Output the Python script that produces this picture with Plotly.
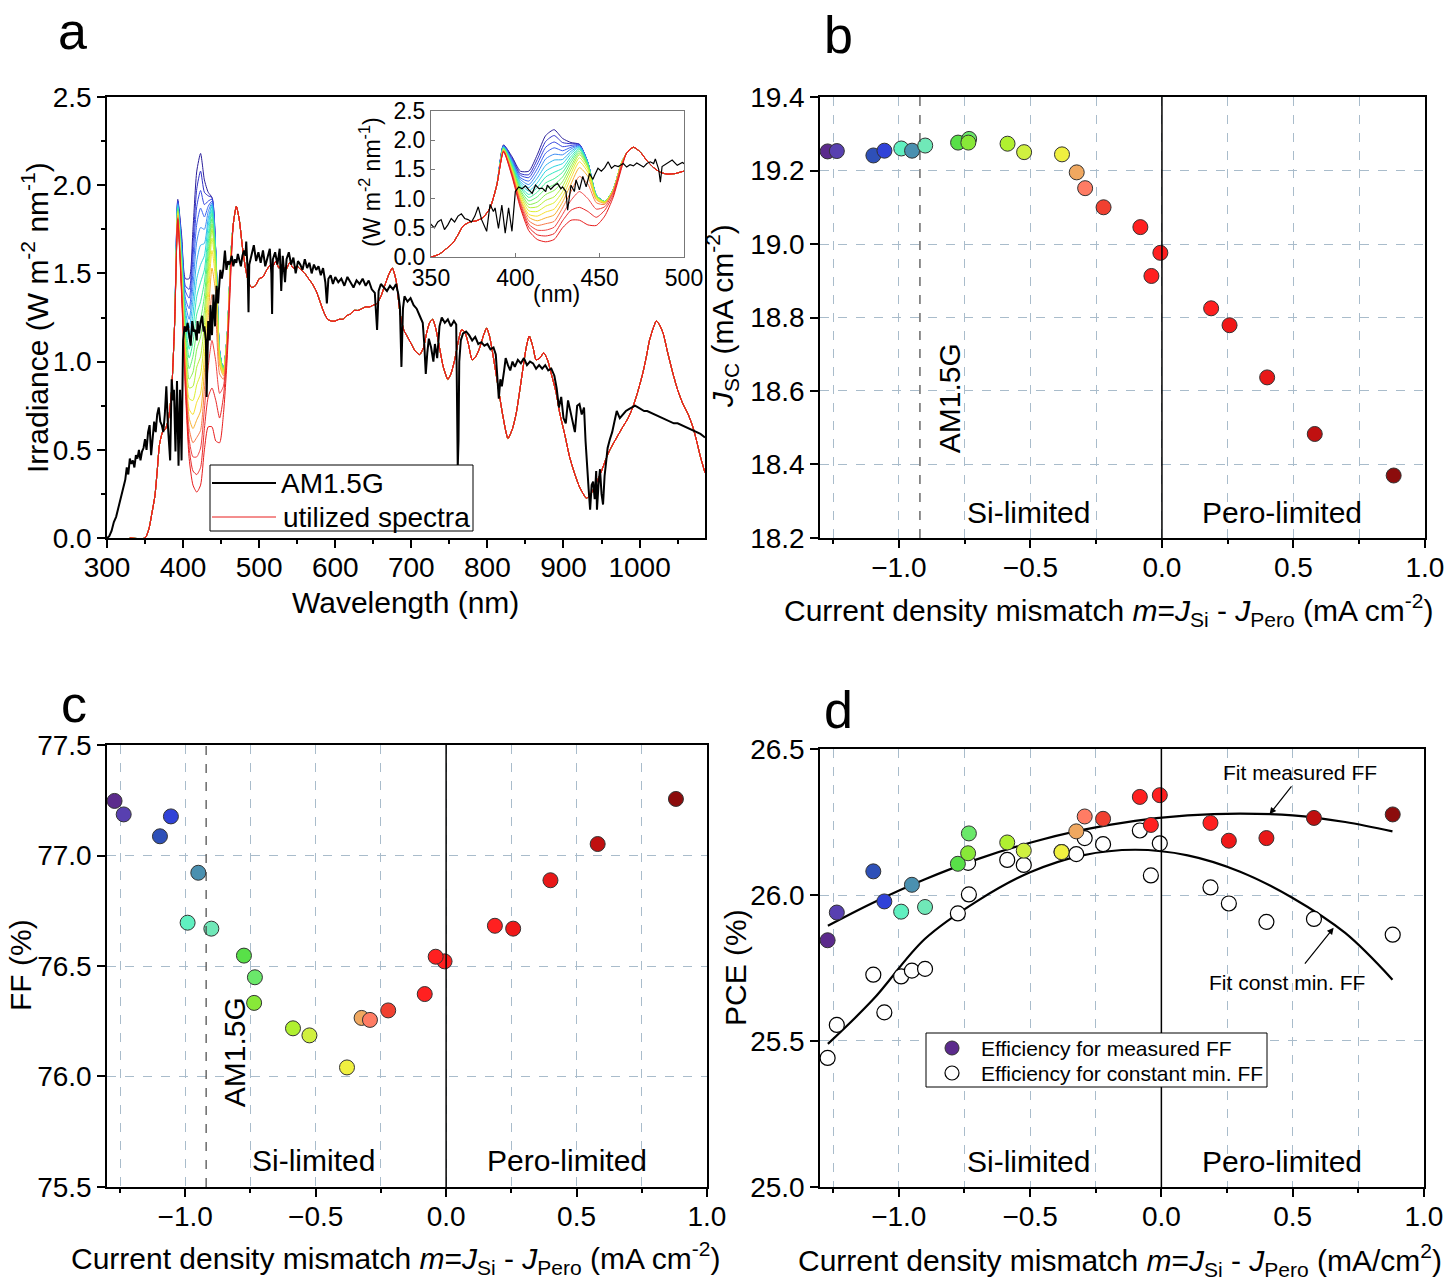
import plotly.graph_objects as go

FONT = "Liberation Sans, Arial, sans-serif"
W, H = 1445, 1280

# ---------------- panel a : spectra ----------------
am_wl = [300, 303, 306, 309, 312, 315, 318, 321, 324, 326,
         328, 330, 332, 334, 336, 338, 340, 342, 344, 346,
         348, 350, 352, 354, 356, 358, 360, 362, 364, 366,
         368, 370, 372, 374, 376, 378, 380, 382, 383, 385,
         387, 388, 390, 392, 394, 396, 398, 400, 402, 404,
         406, 408, 410, 412, 414, 416, 418, 419, 421, 423,
         425, 427, 428, 430, 431, 433, 435, 436, 438, 440,
         442, 444, 446, 447, 449, 451, 453, 455, 457, 459,
         461, 464, 466, 468, 470, 472, 474, 476, 478, 480,
         482, 483, 485, 486, 487, 490, 493, 496, 499, 502,
         505, 508, 511, 514, 516, 517, 518, 521, 524, 527,
         529, 531, 534, 536, 539, 542, 545, 548, 551, 554,
         557, 560, 563, 566, 569, 572, 575, 578, 581, 584,
         587, 589, 591, 594, 597, 600, 604, 608, 612, 616,
         620, 624, 628, 632, 636, 640, 644, 648, 652, 655,
         657, 660, 664, 668, 672, 676, 680, 683, 685, 687,
         689, 691, 695, 699, 703, 707, 711, 715, 717, 719,
         721, 723, 726, 729, 731, 734, 737, 740, 744, 748,
         752, 756, 759, 760, 761, 762, 763, 765, 768, 772,
         776, 780, 784, 788, 792, 796, 800, 804, 808, 811,
         813, 815, 817, 819, 822, 824, 827, 830, 833, 836,
         840, 844, 848, 852, 856, 860, 864, 868, 872, 876,
         880, 884, 888, 891, 894, 897, 900, 903, 906, 909,
         912, 915, 918, 921, 924, 927, 929, 931, 933, 935,
         937, 939, 941, 943, 944, 946, 948, 950, 952, 954,
         956, 958, 961, 964, 967, 970, 974, 978, 982, 986,
         990, 994, 998, 1002, 1006, 1010, 1015, 1020, 1025, 1030,
         1035, 1040, 1045, 1050, 1055, 1060, 1065, 1070, 1075, 1080,
         1086]
am_irr = [0.00, 0.01, 0.04, 0.09, 0.12, 0.17, 0.22, 0.27, 0.33, 0.40,
          0.36, 0.45, 0.42, 0.44, 0.40, 0.47, 0.45, 0.50, 0.44, 0.49,
          0.51, 0.56, 0.50, 0.60, 0.64, 0.47, 0.55, 0.66, 0.60, 0.70,
          0.74, 0.66, 0.64, 0.60, 0.70, 0.86, 0.64, 0.50, 0.44, 0.90,
          0.78, 0.84, 0.49, 0.89, 0.41, 0.84, 0.44, 1.12, 1.20, 1.17,
          1.22, 1.15, 1.09, 1.23, 1.17, 1.18, 1.12, 1.23, 1.16, 1.22,
          1.26, 1.17, 1.20, 1.12, 0.80, 1.23, 1.12, 1.32, 1.15, 1.38,
          1.20, 1.43, 1.33, 1.40, 1.52, 1.47, 1.53, 1.63, 1.52, 1.57,
          1.55, 1.60, 1.54, 1.58, 1.56, 1.61, 1.58, 1.54, 1.60, 1.63,
          1.60, 1.68, 1.50, 1.28, 1.55, 1.60, 1.66, 1.57, 1.62, 1.56,
          1.63, 1.54, 1.60, 1.64, 1.50, 1.27, 1.58, 1.62, 1.55, 1.64,
          1.40, 1.60, 1.45, 1.58, 1.62, 1.55, 1.59, 1.50, 1.57, 1.55,
          1.52, 1.58, 1.53, 1.56, 1.50, 1.55, 1.52, 1.54, 1.49, 1.53,
          1.45, 1.33, 1.47, 1.49, 1.44, 1.48, 1.45, 1.47, 1.43, 1.48,
          1.45, 1.42, 1.46, 1.44, 1.47, 1.43, 1.46, 1.41, 1.39, 1.18,
          1.40, 1.44, 1.42, 1.40, 1.43, 1.41, 1.44, 1.38, 1.31, 0.97,
          1.30, 1.37, 1.34, 1.36, 1.32, 1.30, 1.26, 1.22, 1.10, 0.93,
          1.05, 1.13, 1.08, 1.00, 1.10, 1.02, 1.20, 1.25, 1.22, 1.24,
          1.20, 1.23, 1.21, 0.60, 0.40, 0.55, 1.00, 1.12, 1.16, 1.17,
          1.15, 1.12, 1.14, 1.10, 1.11, 1.09, 1.10, 1.07, 1.08, 1.04,
          0.92, 0.79, 0.90, 0.86, 0.95, 1.02, 0.98, 0.95, 1.00, 0.97,
          1.01, 0.99, 1.02, 0.98, 1.00, 0.99, 0.96, 0.98, 0.96, 0.98,
          0.95, 0.96, 0.92, 0.85, 0.74, 0.80, 0.68, 0.65, 0.78, 0.72,
          0.66, 0.60, 0.75, 0.76, 0.70, 0.74, 0.55, 0.39, 0.28, 0.16,
          0.30, 0.32, 0.22, 0.38, 0.16, 0.30, 0.39, 0.25, 0.19, 0.35,
          0.45, 0.51, 0.56, 0.60, 0.66, 0.72, 0.68, 0.70, 0.72, 0.73,
          0.74, 0.75, 0.74, 0.73, 0.72, 0.72, 0.71, 0.70, 0.69, 0.68,
          0.67, 0.66, 0.65, 0.65, 0.64, 0.63, 0.62, 0.61, 0.60, 0.59,
          0.57]

# utilized spectra: common part below / above the tuned band
base_lo_wl = [330, 350, 355, 359, 363, 366, 369, 373, 377, 381, 385, 389]
base_lo = [0.0, 0.0, 0.05, 0.14, 0.24, 0.38, 0.53, 0.60, 0.62, 0.68, 0.84, 1.23]

band_wl = [393, 398, 403, 408, 413, 418, 423, 428, 433, 438, 443, 448, 453, 458, 463]
band_vals = [
    [1.92, 1.72, 1.47, 1.47, 1.75, 2.08, 2.18, 2.03, 1.96, 1.93, 1.62, 1.06, 0.95, 1.15, 1.62],
    [1.91, 1.70, 1.43, 1.41, 1.67, 1.98, 2.08, 1.96, 1.94, 1.93, 1.62, 1.06, 0.95, 1.15, 1.62],
    [1.91, 1.68, 1.40, 1.36, 1.59, 1.88, 1.97, 1.89, 1.91, 1.92, 1.62, 1.06, 0.95, 1.15, 1.62],
    [1.90, 1.66, 1.36, 1.30, 1.51, 1.78, 1.87, 1.82, 1.88, 1.91, 1.62, 1.06, 0.95, 1.15, 1.62],
    [1.89, 1.64, 1.33, 1.24, 1.43, 1.68, 1.76, 1.75, 1.85, 1.90, 1.62, 1.06, 0.95, 1.15, 1.62],
    [1.89, 1.63, 1.29, 1.19, 1.35, 1.57, 1.66, 1.67, 1.81, 1.89, 1.61, 1.06, 0.95, 1.15, 1.62],
    [1.88, 1.61, 1.26, 1.13, 1.27, 1.47, 1.55, 1.60, 1.77, 1.88, 1.61, 1.06, 0.95, 1.15, 1.62],
    [1.87, 1.59, 1.22, 1.07, 1.19, 1.37, 1.45, 1.52, 1.72, 1.86, 1.60, 1.05, 0.95, 1.15, 1.62],
    [1.87, 1.57, 1.19, 1.02, 1.11, 1.27, 1.34, 1.45, 1.67, 1.84, 1.59, 1.05, 0.95, 1.15, 1.62],
    [1.86, 1.55, 1.15, 0.96, 1.03, 1.17, 1.24, 1.37, 1.62, 1.81, 1.58, 1.05, 0.95, 1.15, 1.62],
    [1.85, 1.53, 1.12, 0.90, 0.94, 1.07, 1.14, 1.29, 1.56, 1.78, 1.56, 1.04, 0.95, 1.15, 1.62],
    [1.85, 1.51, 1.08, 0.85, 0.86, 0.97, 1.03, 1.21, 1.50, 1.75, 1.54, 1.03, 0.94, 1.15, 1.62],
    [1.84, 1.49, 1.05, 0.79, 0.78, 0.87, 0.93, 1.12, 1.43, 1.70, 1.50, 1.02, 0.94, 1.14, 1.61],
    [1.83, 1.47, 1.01, 0.73, 0.70, 0.77, 0.82, 1.03, 1.35, 1.63, 1.45, 1.00, 0.93, 1.14, 1.61],
    [1.83, 1.46, 0.98, 0.68, 0.62, 0.67, 0.72, 0.94, 1.25, 1.53, 1.38, 0.98, 0.92, 1.13, 1.60],
    [1.82, 1.44, 0.94, 0.62, 0.54, 0.57, 0.61, 0.84, 1.12, 1.38, 1.25, 0.93, 0.90, 1.12, 1.59],
    [1.81, 1.42, 0.91, 0.56, 0.46, 0.46, 0.51, 0.73, 0.97, 1.12, 1.00, 0.82, 0.86, 1.10, 1.57],
    [1.81, 1.40, 0.87, 0.51, 0.38, 0.36, 0.40, 0.62, 0.80, 0.85, 0.78, 0.68, 0.80, 1.06, 1.55],
    [1.80, 1.38, 0.84, 0.45, 0.30, 0.26, 0.30, 0.50, 0.63, 0.63, 0.55, 0.54, 0.70, 1.02, 1.52],
]
band_colors = ["#2a1e9a", "#3030c8", "#3848e0", "#3c64f0", "#3c8cf4", "#30b4f0",
               "#28d4e0", "#30e8c0", "#40f098", "#60f070", "#88f050", "#b4f038",
               "#dcf030", "#f8e030", "#f8b030", "#f87848", "#f04040", "#e82828",
               "#e81c1c"]

base_hi_wl = [466, 470, 474, 478, 482, 486, 490, 495, 500, 505,
              510, 515, 518, 522, 526, 530, 535, 540, 545, 550,
              555, 560, 565, 570, 575, 580, 585, 590, 595, 600,
              605, 610, 615, 620, 625, 630, 635, 640, 645, 650,
              655, 660, 665, 670, 675, 680, 685, 690, 695, 700,
              705, 711, 716, 720, 724, 728, 732, 737, 742, 748,
              752, 757, 762, 766, 770, 775, 780, 785, 790, 795,
              799, 803, 808, 814, 820, 827, 833, 838, 843, 847,
              851, 855, 860, 864, 869, 874, 879, 884, 890, 895,
              902, 908, 915, 921, 926, 930, 936, 943, 950, 956,
              961, 970, 978, 985, 991, 997, 1004, 1009, 1013, 1018,
              1022, 1026, 1031, 1037, 1044, 1050, 1057, 1064, 1070, 1075,
              1080, 1086]
base_hi = [1.78, 1.88, 1.80, 1.65, 1.53, 1.45, 1.42, 1.43, 1.47, 1.48,
           1.52, 1.55, 1.54, 1.57, 1.53, 1.55, 1.52, 1.56, 1.53, 1.54,
           1.52, 1.50, 1.47, 1.44, 1.40, 1.34, 1.28, 1.24, 1.23, 1.23,
           1.24, 1.24, 1.26, 1.27, 1.29, 1.29, 1.30, 1.31, 1.31, 1.32,
           1.33, 1.37, 1.43, 1.49, 1.53, 1.46, 1.28, 1.18, 1.14, 1.10,
           1.06, 1.04, 1.08, 1.16, 1.22, 1.24, 1.19, 1.08, 0.97, 0.90,
           0.93, 1.01, 1.12, 1.18, 1.17, 1.10, 1.01, 1.03, 1.08, 1.15,
           1.19, 1.14, 1.02, 0.86, 0.70, 0.565, 0.62, 0.71, 0.85, 0.97,
           1.08, 1.145, 1.08, 1.01, 1.02, 1.05, 1.01, 0.93, 0.83, 0.71,
           0.58, 0.46, 0.36, 0.29, 0.25, 0.225, 0.25, 0.31, 0.38, 0.45,
           0.50, 0.57, 0.63, 0.68, 0.74, 0.82, 0.93, 1.03, 1.12, 1.19,
           1.23, 1.21, 1.16, 1.05, 0.93, 0.84, 0.76, 0.70, 0.63, 0.55,
           0.46, 0.37]

# ---------------- panels b-d : mismatch series ----------------
mismatch = [-1.271, -1.236, -1.097, -1.055, -0.991, -0.950, -0.900, -0.775,
            -0.733, -0.736, -0.587, -0.524, -0.380, -0.324, -0.292, -0.222,
            -0.082, -0.006, -0.040, 0.187, 0.257, 0.400, 0.581, 0.881]
jsc = [19.252, 19.253, 19.241, 19.254, 19.260, 19.254, 19.268, 19.276,
       19.286, 19.276, 19.273, 19.250, 19.244, 19.195, 19.152, 19.100,
       19.046, 18.976, 18.913, 18.825, 18.779, 18.637, 18.483, 18.370]
ff = [77.247, 77.186, 77.087, 77.177, 76.696, 76.922, 76.669, 76.547,
      76.449, 76.333, 76.218, 76.186, 76.041, 76.265, 76.256, 76.299,
      76.373, 76.521, 76.542, 76.682, 76.669, 76.888, 77.052, 77.256]
pce_meas = [25.845, 25.940, 26.081, 25.978, 25.943, 26.035, 25.959, 26.107,
            26.211, 26.143, 26.180, 26.152, 26.147, 26.218, 26.269, 26.261,
            26.336, 26.342, 26.240, 26.247, 26.186, 26.195, 26.264, 26.276]
pce_const = [25.442, 25.555, 25.727, 25.598, 25.721, 25.741, 25.747, 25.937,
             26.002, 26.110, 26.120, 26.103, 26.147, 26.140, 26.195, 26.174,
             26.221, 26.177, 26.067, 26.026, 25.971, 25.908, 25.918, 25.864]
point_colors = ["#5b2a8c", "#5840b0", "#2e50b8", "#3042d8", "#60f0c0", "#4a90b0",
                "#70e8b8", "#58e048", "#6ae86a", "#88e838", "#b0f030", "#d0f040",
                "#f0f040", "#f0a860", "#ff7c64", "#f04030", "#ff2020", "#ff2020",
                "#ff2020", "#ff2020", "#f01818", "#e81818", "#c01010", "#8c0c0c"]

fit_x = [-1.27, -1.1, -0.9, -0.7, -0.5, -0.3, -0.1, 0.1, 0.3, 0.5, 0.7, 0.88]
fit_meas = [25.895, 25.973, 26.054, 26.123, 26.179, 26.223, 26.254, 26.273,
            26.279, 26.273, 26.250, 26.218]
fit_const = [25.49, 25.64, 25.85, 25.98, 26.078, 26.136, 26.155, 26.136,
             26.08, 25.99, 25.87, 25.71]

AM_LINE = -0.92


def px(x):
    return x / W


def py(y):
    return 1 - y / H


def axis(**kw):
    d = dict(showline=True, linecolor="black", linewidth=1.5, mirror=True,
             ticks="outside", ticklen=8, tickwidth=1.5, tickcolor="black",
             tickfont=dict(family=FONT, size=28, color="black"),
             showgrid=False, zeroline=False, automargin=False)
    d.update(kw)
    return d


GRID = dict(showgrid=True, gridcolor="#a9bccb", griddash="dash", gridwidth=1)

fig = go.Figure()

# spectra in main panel and inset
for xa, ya, lw_black in (("x", "y", 2), ("x2", "y2", 1.2)):
    for k, row in enumerate(band_vals):
        fig.add_trace(go.Scatter(
            x=base_lo_wl + band_wl + base_hi_wl, y=base_lo + row + base_hi,
            mode="lines", line=dict(color=band_colors[k], width=1, shape="spline", smoothing=0.6),
            xaxis=xa, yaxis=ya, name="utilized spectra"))
    fig.add_trace(go.Scatter(
        x=am_wl, y=am_irr, mode="lines", line=dict(color="black", width=lw_black),
        xaxis=xa, yaxis=ya, name="AM1.5G"))

mk = dict(size=15, color=point_colors, line=dict(color="#333333", width=1))

fig.add_trace(go.Scatter(x=mismatch, y=jsc, mode="markers", marker=mk,
                         xaxis="x3", yaxis="y3"))
fig.add_trace(go.Scatter(x=mismatch, y=ff, mode="markers", marker=mk,
                         xaxis="x4", yaxis="y4"))

fig.add_trace(go.Scatter(x=fit_x, y=fit_meas, mode="lines",
                         line=dict(color="black", width=2.2, shape="spline"),
                         xaxis="x5", yaxis="y5"))
fig.add_trace(go.Scatter(x=fit_x, y=fit_const, mode="lines",
                         line=dict(color="black", width=2.2, shape="spline"),
                         xaxis="x5", yaxis="y5"))
fig.add_trace(go.Scatter(x=mismatch, y=pce_const, mode="markers",
                         marker=dict(size=15, color="white", line=dict(color="black", width=1.2)),
                         xaxis="x5", yaxis="y5", name="Efficiency for constant min. FF"))
fig.add_trace(go.Scatter(x=mismatch, y=pce_meas, mode="markers", marker=mk,
                         xaxis="x5", yaxis="y5", name="Efficiency for measured FF"))

# layout axes
dom_a_x = [px(107), px(705)]
dom_top_y = [py(538), py(97)]
dom_b_x = [px(820), px(1425)]
dom_c_x = [px(107), px(707)]
dom_c_y = [py(1187), py(745)]
dom_d_x = [px(820), px(1424)]
dom_d_y = [py(1187), py(749)]

mis_x = dict(range=[-1.3, 1.0001], dtick=0.5, tick0=0, tickformat=".1f", ticklabelstandoff=-4,
             minor=dict(dtick=0.25, tick0=0, ticks="outside", ticklen=4, tickcolor="black",
                        showgrid=True, gridcolor="#a9bccb", griddash="dash"),
             **GRID)
inset_font = dict(family=FONT, size=23, color="black")

fig.update_layout(
    width=W, height=H, margin=dict(l=0, r=0, t=0, b=0, autoexpand=False),
    paper_bgcolor="white", plot_bgcolor="white", showlegend=False,
    font=dict(family=FONT, color="black"),
    xaxis=axis(domain=dom_a_x, anchor="y", range=[300, 1086], dtick=100, tick0=0,
               ticklabelstandoff=-4,
               minor=dict(dtick=50, ticks="outside", ticklen=4, tickcolor="black")),
    yaxis=axis(domain=dom_top_y, anchor="x", range=[0, 2.5001], dtick=0.5, tickformat=".1f",
               minor=dict(dtick=0.25, ticks="outside", ticklen=4, tickcolor="black")),
    xaxis2=axis(domain=[px(431), px(684)], anchor="y2", range=[350, 500], dtick=50,
                linecolor="#777777", linewidth=1, ticks="inside", ticklen=4, tickwidth=1,
                tickcolor="#777777", tickfont=inset_font),
    yaxis2=axis(domain=[py(257), py(111)], anchor="x2", range=[0, 2.5001], dtick=0.5,
                tickformat=".1f", linecolor="#777777", linewidth=1, ticks="inside", ticklen=4,
                tickwidth=1, tickcolor="#777777", tickfont=inset_font),
    xaxis3=axis(domain=dom_b_x, anchor="y3", **mis_x),
    yaxis3=axis(domain=dom_top_y, anchor="x3", range=[18.1999, 19.4001], dtick=0.2,
                tickformat=".1f", **GRID),
    xaxis4=axis(domain=dom_c_x, anchor="y4", **mis_x),
    yaxis4=axis(domain=dom_c_y, anchor="x4", range=[75.4999, 77.5001], dtick=0.5,
                tickformat=".1f", **GRID),
    xaxis5=axis(domain=dom_d_x, anchor="y5", **mis_x),
    yaxis5=axis(domain=dom_d_y, anchor="x5", range=[24.9999, 26.5001], dtick=0.5,
                tickformat=".1f", **GRID),
)

# vertical lines in b, c, d
shapes = []
for xr, yr in (("x3", "y3"), ("x4", "y4"), ("x5", "y5")):
    shapes.append(dict(type="line", xref=xr, yref=yr + " domain", x0=0, x1=0, y0=0, y1=1,
                       line=dict(color="black", width=1.5)))
for xr, yr in (("x3", "y3"), ("x4", "y4")):
    shapes.append(dict(type="line", xref=xr, yref=yr + " domain", x0=AM_LINE, x1=AM_LINE,
                       y0=0, y1=1, line=dict(color="#444444", width=1.2, dash="dash")))

# legend boxes (drawn by hand to match the framed legends of the figure)
PAPER = dict(xref="paper", yref="paper")
shapes.append(dict(type="rect", x0=px(210), x1=px(473), y0=py(531), y1=py(465),
                   line=dict(color="black", width=1), fillcolor="white", **PAPER))
shapes.append(dict(type="line", x0=px(212), x1=px(276), y0=py(483), y1=py(483),
                   line=dict(color="black", width=2), **PAPER))
shapes.append(dict(type="line", x0=px(212), x1=px(276), y0=py(517), y1=py(517),
                   line=dict(color=band_colors[-1], width=1), **PAPER))
shapes.append(dict(type="rect", x0=px(926), x1=px(1267), y0=py(1087), y1=py(1033),
                   line=dict(color="black", width=1), fillcolor="white", **PAPER))
shapes.append(dict(type="circle", x0=px(945), x1=px(959), y0=py(1055), y1=py(1041),
                   line=dict(color="#333333", width=1), fillcolor=point_colors[0], **PAPER))
shapes.append(dict(type="circle", x0=px(945), x1=px(959), y0=py(1080), y1=py(1066),
                   line=dict(color="black", width=1.2), fillcolor="white", **PAPER))
fig.update_layout(shapes=shapes)


def txt(text, x, y, size=30, angle=0, xref="paper", yref="paper", xanchor="center"):
    fig.add_annotation(text=text, x=x, y=y, xref=xref, yref=yref, showarrow=False,
                       textangle=angle, xanchor=xanchor, yanchor="middle",
                       font=dict(family=FONT, size=size, color="black"))


# legend texts
txt("AM1.5G", px(279), py(483), size=28, xanchor="left")
txt("utilized spectra", px(281), py(517), size=28, xanchor="left")
txt("Efficiency for measured FF", px(979), py(1048), size=21, xanchor="left")
txt("Efficiency for constant min. FF", px(979), py(1073), size=21, xanchor="left")

# panel letters
for letter, lx, ly in (("a", 72, 31), ("b", 838, 35), ("c", 74, 704), ("d", 838, 710)):
    txt(letter, px(lx), py(ly), size=52)

mis_title = "Current density mismatch <i>m</i>=<i>J</i><sub>Si</sub> - <i>J</i><sub>Pero</sub> "

# axis titles
txt("Wavelength (nm)", px(405), py(602))
txt("Irradiance (W m<sup>-2</sup> nm<sup>-1</sup>)", px(35), py(318), angle=-90)
txt("(W m<sup>-2</sup> nm<sup>-1</sup>)", px(370), py(182), size=23, angle=-90)
txt("(nm)", px(556), py(294), size=23)
txt(mis_title + "(mA cm<sup>-2</sup>)", px(1108), py(610))
txt("<i>J</i><sub>SC</sub> (mA cm<sup>-2</sup>)", px(722), py(316), angle=-90)
txt(mis_title + "(mA cm<sup>-2</sup>)", px(396), py(1258))
txt("FF (%)", px(20), py(965), angle=-90)
txt(mis_title + "(mA/cm<sup>2</sup>)", px(1120), py(1260))
txt("PCE (%)", px(735), py(968), angle=-90)

# labels inside panels
txt("AM1.5G", -0.81, 18.58, angle=-90, xref="x3", yref="y3")
txt("Si-limited", -0.508, 18.268, xref="x3", yref="y3")
txt("Pero-limited", 0.458, 18.268, xref="x3", yref="y3")
txt("AM1.5G", -0.813, 76.11, angle=-90, xref="x4", yref="y4")
txt("Si-limited", -0.507, 75.618, xref="x4", yref="y4")
txt("Pero-limited", 0.463, 75.618, xref="x4", yref="y4")
txt("Si-limited", -0.505, 25.086, xref="x5", yref="y5")
txt("Pero-limited", 0.46, 25.086, xref="x5", yref="y5")
txt("Fit measured FF", 0.527, 26.418, size=21, xref="x5", yref="y5")
txt("Fit const min. FF", 0.477, 25.702, size=21, xref="x5", yref="y5")

for (hx, hy), (tx, ty) in (((0.412, 26.277), (0.50, 26.377)),
                           ((0.656, 25.888), (0.542, 25.760))):
    fig.add_annotation(x=hx, y=hy, ax=tx, ay=ty, xref="x5", yref="y5", axref="x5", ayref="y5",
                       text="", showarrow=True, arrowhead=2, arrowsize=1.1, arrowwidth=1.2,
                       arrowcolor="black")

fig.write_html("out.html", config={"displayModeBar": False},
               post_script="document.body.style.margin='0px';")
